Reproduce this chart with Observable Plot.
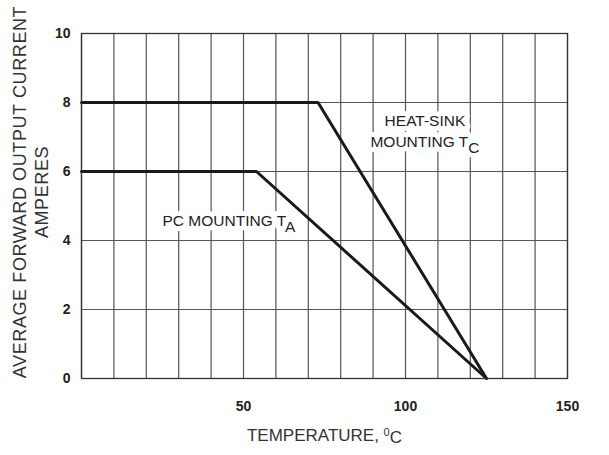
<!DOCTYPE html>
<html><head><meta charset="utf-8">
<script src="https://cdn.jsdelivr.net/npm/d3@7"></script>
<script src="https://cdn.jsdelivr.net/npm/@observablehq/plot@0.6"></script>
<style>
body{margin:0;background:#fff;}
svg{font-family:"Liberation Sans",Arial,sans-serif;}
</style>
</head><body><div id="chart"></div>
<script>
// Derating curves (temperature °C, average forward output current A)
const heatSinkTemp = [0, 73, 125];
const heatSinkCurrent = [8, 8, 0];
const pcTemp = [0, 54, 125];
const pcCurrent = [6, 6, 0];

// Ticks
const xGridTicks = [0,10,20,30,40,50,60,70,80,90,100,110,120,130,140,150];
const xLabelTicks = [50, 100, 150];
const yTicks = [0, 2, 4, 6, 8, 10];

// Annotations
const noteText = ["HEAT-SINK\nMOUNTING T", "PC MOUNTING T"];
const noteSub = ["C", "A"];
const noteTemp = [106, 25];
const noteCurrent = [7.2, 4.55];
const noteAnchor = ["middle", "start"];

const xTitle = "TEMPERATURE, ";
const yTitle = "AVERAGE FORWARD OUTPUT CURRENT\nAMPERES";

const toRows = (xs, ys) => xs.map((x, i) => ({x, y: ys[i]}));
const notes = noteText.map((t, i) => ({t, x: noteTemp[i], y: noteCurrent[i], a: noteAnchor[i]}));

const lineStyle = {x: "x", y: "y", stroke: "#1a1a1a", strokeWidth: 3, strokeLinejoin: "miter"};

const chart = Plot.plot({
  width: 609, height: 455,
  marginTop: 33, marginRight: 42, marginBottom: 77, marginLeft: 81,
  style: {fontFamily: '"Liberation Sans", Arial, sans-serif', background: "#fff", color: "#222"},
  x: {domain: [0, 150]},
  y: {domain: [0, 10]},
  marks: [
    Plot.gridX(xGridTicks, {stroke: "#555", strokeOpacity: 1, strokeWidth: 1.2}),
    Plot.gridY(yTicks, {stroke: "#555", strokeOpacity: 1, strokeWidth: 1.2}),
    Plot.line(toRows(heatSinkTemp, heatSinkCurrent), lineStyle),
    Plot.line(toRows(pcTemp, pcCurrent), lineStyle),
    Plot.text(notes.filter(d => d.a === "middle"), {x: "x", y: "y", text: "t", textAnchor: "middle", fill: "#222", stroke: "white", strokeWidth: 10, fontSize: 15.5, lineHeight: 1.35, className: "note"}),
    Plot.text(notes.filter(d => d.a === "start"), {x: "x", y: "y", text: "t", textAnchor: "start", fill: "#222", stroke: "white", strokeWidth: 10, fontSize: 15.5, className: "note"}),
    Plot.frame({stroke: "#333", strokeWidth: 1.3}),
    Plot.axisY(yTicks, {tickSize: 0, tickPadding: 11, fontSize: 14, fontWeight: "bold", fill: "#222", label: null}),
    Plot.axisX(xLabelTicks, {tickSize: 0, tickPadding: 23, fontSize: 14, fontWeight: "bold", fill: "#222", label: null}),
    Plot.text([yTitle], {text: d => d, frameAnchor: "left", textAnchor: "middle", rotate: -90, dx: -52, dy: -14, fontSize: 18, lineHeight: 1.22, fill: "#333", className: "ytitle"}),
    Plot.text([xTitle], {text: d => d, frameAnchor: "bottom", dy: 62, fontSize: 17, fill: "#333", className: "xtitle"})
  ]
});
document.getElementById("chart").appendChild(chart);

// subscripts on annotations
const noteOrder = notes.filter(d => d.a === "middle").concat(notes.filter(d => d.a === "start"));
d3.select(chart).selectAll("g.note text").each(function(_, i) {
  const el = d3.select(this);
  const tsp = el.selectAll("tspan");
  const target = tsp.empty() ? el : d3.select(tsp.nodes()[tsp.size() - 1]);
  const idx = noteText.indexOf(noteOrder[i].t);
  target.append("tspan").attr("dy", "0.38em").text(noteSub[idx]);
});
// slightly wider tracking on the y title
d3.select(chart).selectAll("g.ytitle text").attr("letter-spacing", "0.6px");
// superscript degree zero on x title
d3.select(chart).selectAll("g.xtitle text").each(function() {
  const el = d3.select(this);
  el.append("tspan").attr("dy", "-0.45em").attr("font-size", 11).text("0");
  el.append("tspan").attr("dy", "0.45em").text("C");
});
</script>
</body></html>
